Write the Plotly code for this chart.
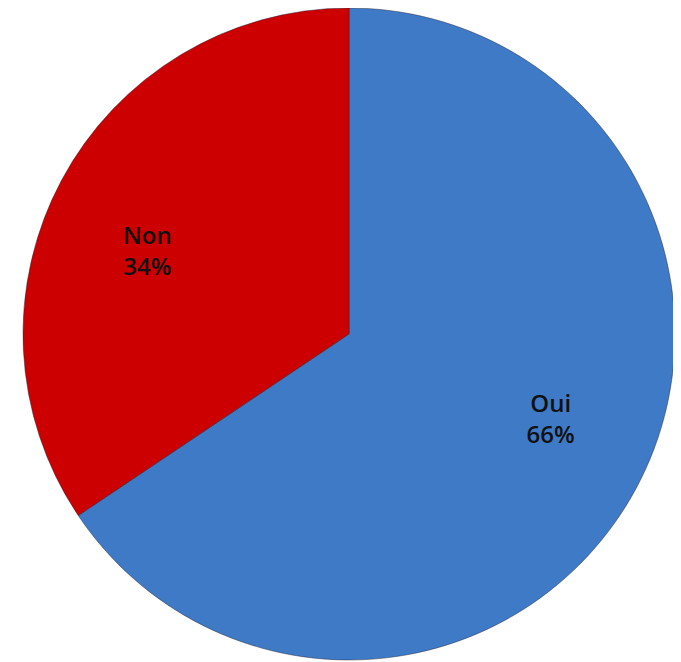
import plotly.graph_objects as go

labels = ["Oui", "Non"]
values = [65.6, 34.4]
colors = ["#3e7ac6", "#cc0000"]

W, H = 681, 662
OFF = 8  # default page body margin
cx, cy, r = 349 - OFF, 334 - OFF, 326
dom = dict(x=[(cx - r) / W, (cx + r) / W],
           y=[(H - cy - r) / H, (H - cy + r) / H])

common = dict(
    labels=labels,
    values=values,
    sort=False,
    direction="clockwise",
    showlegend=False,
    domain=dom,
)

fig = go.Figure()
# the pie itself
fig.add_trace(go.Pie(
    **common,
    rotation=0,
    marker=dict(colors=colors, line=dict(color="rgba(30,30,50,0.45)", width=1)),
    textinfo="none",
    hoverinfo="label+percent",
))
# transparent ring that only carries the data labels
fig.add_trace(go.Pie(
    **common,
    rotation=-5.5,
    hole=0.34,
    marker=dict(colors=["rgba(0,0,0,0)", "rgba(0,0,0,0)"], line=dict(width=0)),
    texttemplate="%{label}<br>%{percent:.0%}",
    textposition="inside",
    insidetextorientation="horizontal",
    textfont=dict(family="Open Sans, sans-serif", size=24, color="#111111", weight=600),
    hoverinfo="skip",
))

fig.update_layout(
    width=W, height=H,
    margin=dict(l=0, r=0, t=0, b=0),
    paper_bgcolor="white",
    plot_bgcolor="white",
)

fig.write_html("out.html")
